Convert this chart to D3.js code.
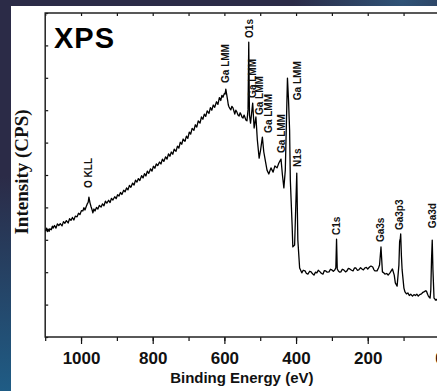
<!DOCTYPE html>
<html>
<head>
<meta charset="utf-8">
<script src="https://cdn.jsdelivr.net/npm/d3@7"></script>
<style>
  html, body { margin: 0; padding: 0; overflow: hidden; }
  svg { display: block; }
</style>
</head>
<body>
<svg id="chart" width="437" height="391"></svg>
<script>
// survey spectrum: [binding energy (eV), intensity (arb. CPS)]
var spectrum = [
  [1099, 32.7], [1096, 33.6], [1094, 32.5], [1092, 33.3], [1089, 32.6], [1087, 33.4], [1083, 33.1], [1080, 34.2], [1078, 33.6], [1074, 34.4],
  [1070, 33.6], [1066, 34.9], [1062, 34.4], [1058, 35.0], [1053, 34.3], [1049, 35.6], [1045, 35.1], [1041, 35.9], [1036, 35.2], [1032, 36.5],
  [1028, 36.0], [1024, 36.9], [1020, 36.1], [1016, 37.3], [1011, 37.1], [1007, 38.2], [1003, 37.8], [999, 39.0], [995, 38.9], [992, 39.9],
  [989, 39.2], [986, 40.1], [983, 41.0], [980, 41.6], [978, 43.2], [975, 41.4], [972, 40.2], [969, 39.2], [967, 38.3], [964, 39.5],
  [961, 38.9], [957, 40.0], [953, 39.5], [949, 40.6], [944, 40.1], [940, 41.1], [936, 40.5], [932, 41.9], [928, 41.3], [923, 42.2],
  [919, 41.5], [915, 42.8], [911, 42.3], [906, 43.3], [902, 42.7], [898, 43.9], [894, 43.5], [890, 44.6], [886, 44.0], [881, 45.3],
  [877, 44.8], [873, 46.0], [869, 45.4], [865, 46.8], [861, 46.2], [856, 47.5], [852, 46.9], [848, 48.4], [844, 47.8], [840, 48.9],
  [836, 48.3], [831, 49.8], [827, 49.1], [823, 50.4], [819, 49.7], [815, 51.2], [811, 50.5], [806, 51.9], [802, 51.2], [798, 52.7],
  [794, 52.1], [790, 53.4], [786, 52.9], [781, 54.0], [777, 53.4], [773, 54.9], [769, 54.2], [764, 55.6], [760, 54.9], [756, 56.5],
  [752, 55.8], [748, 57.1], [744, 56.4], [740, 58.0], [735, 57.3], [731, 58.9], [727, 58.3], [723, 60.1], [719, 59.5], [715, 61.1],
  [710, 60.4], [706, 62.0], [702, 61.3], [698, 63.2], [694, 62.6], [690, 64.4], [685, 63.8], [681, 65.5], [677, 64.8], [673, 66.7],
  [668, 66.0], [664, 67.9], [660, 67.2], [656, 68.8], [652, 68.1], [648, 69.8], [643, 69.0], [639, 70.8], [635, 70.0], [631, 71.6],
  [627, 70.9], [622, 72.6], [618, 71.8], [614, 73.9], [610, 73.0], [607, 74.6], [604, 74.0], [600, 75.2], [598, 75.0], [596, 76.5],
  [591, 73.1], [589, 71.6], [587, 71.0], [584, 70.4], [582, 70.1], [579, 71.2], [576, 70.7], [573, 69.6], [571, 68.8], [568, 70.0],
  [565, 69.4], [562, 68.5], [559, 68.2], [556, 69.2], [554, 68.8], [551, 67.9], [548, 67.6], [545, 68.5], [543, 67.9], [540, 67.0],
  [537, 66.7], [534, 70.1], [532, 91.0], [530, 68.5], [527, 66.0], [521, 72.2], [517, 64.5], [512, 67.9], [508, 60.8], [503, 55.2],
  [499, 57.7], [494, 61.7], [490, 57.1], [485, 54.0], [481, 51.5], [476, 50.3], [470, 52.2], [464, 50.9], [459, 52.8], [453, 52.2],
  [448, 53.7], [442, 54.9], [438, 50.0], [434, 46.0], [430, 51.5], [424, 79.9], [421, 73.1], [418, 63.9], [416, 48.5], [411, 34.6],
  [409, 27.8], [404, 28.4], [398, 50.6], [395, 29.9], [390, 21.3], [384, 19.8], [380, 20.6], [375, 20.4], [371, 19.6], [367, 19.4],
  [362, 20.3], [358, 20.1], [354, 19.5], [350, 19.1], [346, 20.0], [342, 19.8], [338, 20.6], [333, 20.1], [329, 19.6], [325, 19.4],
  [321, 20.5], [317, 20.4], [313, 20.0], [308, 20.1], [304, 20.9], [300, 20.7], [296, 20.3], [292, 20.7], [289, 21.4], [287, 30.2],
  [285, 21.0], [282, 20.4], [278, 20.0], [275, 20.1], [271, 20.9], [267, 20.7], [262, 20.1], [258, 20.4], [254, 21.2], [250, 21.0],
  [245, 20.6], [241, 20.4], [237, 21.3], [233, 21.3], [229, 20.6], [225, 20.7], [220, 21.4], [216, 21.0], [212, 20.7], [208, 21.3],
  [204, 21.5], [200, 21.0], [195, 21.6], [191, 21.9], [186, 21.6], [183, 20.8], [180, 20.4], [174, 20.4], [170, 21.3], [167, 22.2],
  [163, 27.8], [159, 20.1], [155, 19.8], [152, 19.4], [147, 19.6], [143, 19.1], [138, 19.8], [131, 21.0], [126, 19.1], [123, 16.7],
  [118, 15.7], [113, 22.2], [111, 29.5], [109, 30.5], [108, 31.8], [106, 25.0], [104, 20.7], [99, 15.1], [96, 13.9], [92, 13.3],
  [88, 13.6], [84, 12.8], [80, 13.2], [75, 12.6], [71, 13.1], [67, 12.8], [63, 13.2], [59, 12.6], [55, 13.1], [50, 13.3],
  [46, 13.8], [42, 14.0], [38, 14.3], [36, 14.1], [33, 13.2], [31, 12.7], [28, 12.2], [26, 12.0], [24, 14.5], [22, 23.8],
  [20, 29.9], [18, 20.7], [15, 12.0], [13, 11.8], [11, 11.4], [8, 11.6], [5, 11.1], [0, 11.2]
];

// peak annotations: text, energy of the label, intensity where the text starts
var peakNames = ["O KLL", "Ga LMM", "O1s", "Ga LMM", "Ga LMM", "Ga LMM", "Ga LMM", "Ga LMM", "N1s", "C1s", "Ga3s", "Ga3p3", "Ga3d"];
var peakEnergy = [978, 596, 529, 521, 501, 478, 441, 397, 397, 286, 163, 110, 19];
var peakLevel = [46.0, 78.4, 92.3, 73.8, 68.5, 63.0, 56.8, 73.1, 52.5, 31.5, 29.3, 33.0, 33.6];

var majorTicks = [1000, 800, 600, 400, 200, 0];
var minorTicks = [1100, 1000, 900, 800, 700, 600, 500, 400, 300, 200, 100, 0];
var yTicks = [0, 10, 20, 30, 40, 50, 60, 70, 80, 90, 100];

var svg = d3.select("#chart");

// slide background behind the white figure
var defs = svg.append("defs");
var grad = defs.append("linearGradient").attr("id", "bg")
    .attr("x1", "0").attr("y1", "0.45").attr("x2", "0").attr("y2", "1");
grad.append("stop").attr("offset", "0").attr("stop-color", "#2b2b47");
grad.append("stop").attr("offset", "1").attr("stop-color", "#1f5c85");
var glow = defs.append("radialGradient").attr("id", "glow")
    .attr("cx", "0.92").attr("cy", "0").attr("r", "0.25");
glow.append("stop").attr("offset", "0").attr("stop-color", "#2f5377");
glow.append("stop").attr("offset", "1").attr("stop-color", "#2f5377").attr("stop-opacity", 0);

svg.append("rect").attr("width", 437).attr("height", 391).attr("fill", "url(#bg)");
svg.append("rect").attr("width", 437).attr("height", 391).attr("fill", "url(#glow)");
svg.append("rect").attr("x", 11).attr("y", 6).attr("width", 426).attr("height", 385).attr("fill", "#fff");

var plotL = 45.2, plotR = 439.4, plotT = 13, plotB = 337;

var x = d3.scaleLinear().domain([1100, 0]).range([plotL, plotR]);
var y = d3.scaleLinear().domain([0, 100]).range([plotB, plotT]);

defs.append("clipPath").attr("id", "plotclip")
  .append("rect").attr("x", plotL).attr("y", plotT).attr("width", plotR - plotL).attr("height", plotB - plotT);

// ticks
var minorAxis = svg.append("g").attr("transform", "translate(0," + plotB + ")")
    .call(d3.axisBottom(x).tickValues(minorTicks).tickSize(4).tickFormat(""));
var majorAxis = svg.append("g").attr("transform", "translate(0," + plotB + ")")
    .call(d3.axisBottom(x).tickValues(majorTicks).tickSize(7).tickPadding(8).tickFormat(d3.format("d")));
var topAxis = svg.append("g").attr("transform", "translate(0," + plotT + ")")
    .call(d3.axisTop(x).tickValues(minorTicks).tickSize(-3).tickFormat(""));
var leftAxis = svg.append("g").attr("transform", "translate(" + plotL + ",0)")
    .call(d3.axisLeft(y).tickValues(yTicks).tickSize(-3).tickFormat(""));

svg.selectAll(".domain").remove();
svg.selectAll(".tick line").attr("stroke", "#111").attr("stroke-width", 1.2);
majorAxis.selectAll("text")
    .attr("font-family", "'Liberation Sans', Arial, sans-serif")
    .attr("font-weight", "bold")
    .attr("font-size", 17)
    .attr("fill", "#111");

// frame
svg.append("rect").attr("x", plotL).attr("y", plotT)
    .attr("width", plotR - plotL).attr("height", plotB - plotT)
    .attr("fill", "none").attr("stroke", "#222").attr("stroke-width", 1.5);

// spectrum
var line = d3.line()
    .x(function (d) { return x(d[0]); })
    .y(function (d) { return y(d[1]); });

svg.append("path")
    .datum(spectrum)
    .attr("clip-path", "url(#plotclip)")
    .attr("d", line)
    .attr("fill", "none")
    .attr("stroke", "#000")
    .attr("stroke-width", 1.3)
    .attr("stroke-linejoin", "round");

// peak labels
svg.append("g").selectAll("text")
    .data(peakNames)
    .enter().append("text")
    .attr("transform", function (d, i) {
        return "translate(" + x(peakEnergy[i]) + "," + y(peakLevel[i]) + ") rotate(-90)";
    })
    .attr("dy", "0.35em")
    .attr("font-family", "'Liberation Sans', Arial, sans-serif")
    .attr("font-weight", "bold")
    .attr("font-size", 10)
    .attr("fill", "#111")
    .text(function (d) { return d; });

// title
svg.append("text")
    .attr("x", 54).attr("y", 48)
    .attr("font-family", "'Liberation Sans', Arial, sans-serif")
    .attr("font-weight", "bold")
    .attr("font-size", 29)
    .attr("letter-spacing", 1)
    .attr("fill", "#000")
    .text("XPS");

// axis titles
svg.append("text")
    .attr("x", (plotL + plotR) / 2 - 0.5).attr("y", 383)
    .attr("text-anchor", "middle")
    .attr("font-family", "'Liberation Sans', Arial, sans-serif")
    .attr("font-weight", "bold")
    .attr("font-size", 15)
    .attr("fill", "#111")
    .text("Binding Energy (eV)");

svg.append("text")
    .attr("transform", "translate(28," + ((plotT + plotB) / 2 - 3) + ") rotate(-90)")
    .attr("text-anchor", "middle")
    .attr("font-family", "'Liberation Serif', 'Times New Roman', serif")
    .attr("font-weight", "bold")
    .attr("font-size", 19)
    .attr("fill", "#111")
    .text("Intensity (CPS)");
</script>
</body>
</html>
